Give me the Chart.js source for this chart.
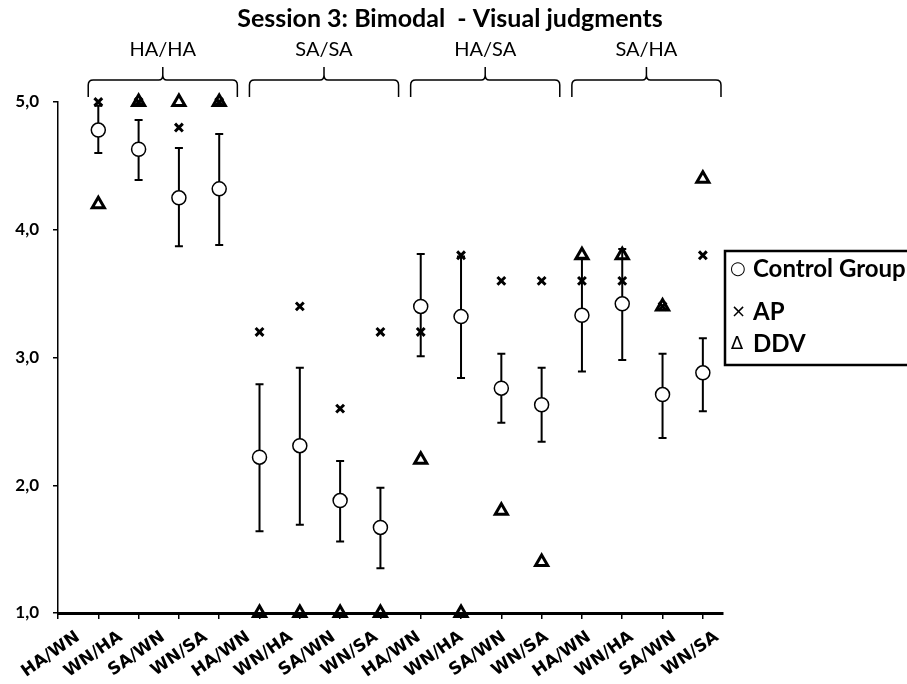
<!DOCTYPE html>
<html>
<head>
<meta charset="utf-8">
<script src="https://cdn.jsdelivr.net/npm/chart.js@4.4.0/dist/chart.umd.min.js"></script>
<style>html,body{margin:0;background:#fff}</style>
</head>
<body>
<canvas id="chart" width="907" height="684"></canvas>
<script>
// conditions along the x axis, four per group
var categories = ["HA/WN","WN/HA","SA/WN","WN/SA","HA/WN","WN/HA","SA/WN","WN/SA",
                  "HA/WN","WN/HA","SA/WN","WN/SA","HA/WN","WN/HA","SA/WN","WN/SA"];
var groups = ["HA/HA","SA/SA","HA/SA","SA/HA"];

// control group mean and error bar ends
var controlMean = [4.78,4.63,4.25,4.32, 2.22,2.31,1.88,1.67, 3.40,3.32,2.76,2.63, 3.33,3.42,2.71,2.88];
var controlLow  = [4.60,4.39,3.87,3.88, 1.64,1.69,1.56,1.35, 3.01,2.84,2.49,2.34, 2.89,2.98,2.37,2.58];
var controlHigh = [4.97,4.86,4.64,4.75, 2.79,2.92,2.19,1.98, 3.81,3.79,3.03,2.92, 3.78,3.85,3.03,3.15];

var apScores  = [5.0,5.0,4.8,5.0, 3.2,3.4,2.6,3.2, 3.2,3.8,3.6,3.6, 3.6,3.6,3.4,3.8];
var ddvScores = [4.2,5.0,5.0,5.0, 1.0,1.0,1.0,1.0, 2.2,1.0,1.8,1.4, 3.8,3.8,3.4,4.4];

function toPoints(arr) {
    return arr.map(function (v, i) { return { x: i + 1, y: v }; });
}
function categoryTicks(withZero) {
    var t = categories.map(function (c, i) { return { value: i + 1 }; });
    return withZero ? [{ value: 0 }].concat(t) : t;
}

var errorBars = {
    id: "errorBars",
    beforeDatasetsDraw: function (chart) {
        var c = chart.ctx, xs = chart.scales.x, ys = chart.scales.y;
        c.save();
        c.strokeStyle = "#000";
        c.lineWidth = 2;
        for (var i = 0; i < controlMean.length; i++) {
            var x = xs.getPixelForValue(i + 1);
            var y0 = ys.getPixelForValue(controlLow[i]);
            var y1 = ys.getPixelForValue(controlHigh[i]);
            c.beginPath();
            c.moveTo(x, y0); c.lineTo(x, y1);
            c.moveTo(x - 4, y0); c.lineTo(x + 4, y0);
            c.moveTo(x - 4, y1); c.lineTo(x + 4, y1);
            c.stroke();
        }
        c.restore();
    }
};

var decorations = {
    id: "decorations",
    afterDraw: function (chart) {
        var c = chart.ctx, xs = chart.scales.x;
        c.save();
        c.fillStyle = "#000";
        c.strokeStyle = "#000";
        c.textAlign = "center";
        c.textBaseline = "middle";
        c.font = "bold 25px Lato";
        c.fillText("Session 3: Bimodal  - Visual judgments", 450, 19);

        // group brackets
        c.lineWidth = 1.5;
        c.font = "20px Lato";
        groups.forEach(function (g, k) {
            var x0 = xs.getPixelForValue(k * 4 + 0.75);
            var x1 = xs.getPixelForValue(k * 4 + 4.45);
            var xm = (x0 + x1) / 2;
            c.beginPath();
            c.moveTo(x0, 97); c.lineTo(x0, 85);
            c.quadraticCurveTo(x0, 80, x0 + 5, 80);
            c.lineTo(xm - 4, 80);
            c.quadraticCurveTo(xm, 80, xm, 75);
            c.lineTo(xm, 67);
            c.moveTo(xm, 75);
            c.quadraticCurveTo(xm, 80, xm + 4, 80);
            c.lineTo(x1 - 5, 80);
            c.quadraticCurveTo(x1, 80, x1, 85);
            c.lineTo(x1, 97);
            c.stroke();
            c.fillText(g, xm, 50);
        });

        // legend
        c.lineWidth = 2.5;
        c.strokeRect(725, 251, 200, 114);
        c.textAlign = "left";
        c.font = "18px 'DejaVu Sans'";
        c.fillText("○", 730, 269);
        c.fillText("×", 731, 312);
        c.fillText("∆", 731, 344);
        c.font = "bold 24px Lato";
        c.fillText("Control Group", 753, 269);
        c.fillText("AP", 753, 312);
        c.fillText("DDV", 753, 344);
        c.restore();
    }
};

new Chart(document.getElementById("chart"), {
    type: "scatter",
    data: {
        datasets: [
            {
                label: "Control Group",
                data: toPoints(controlMean),
                pointStyle: "circle",
                pointRadius: 7,
                borderColor: "#000",
                backgroundColor: "#fff",
                borderWidth: 1.5,
                clip: false,
            },
            {
                label: "AP",
                data: toPoints(apScores),
                pointStyle: "crossRot",
                pointRadius: 5.5,
                borderColor: "#000",
                borderWidth: 3,
                clip: false,
            },
            {
                label: "DDV",
                data: toPoints(ddvScores),
                pointStyle: "triangle",
                pointRadius: 7,
                borderColor: "#000",
                backgroundColor: "rgba(0,0,0,0)",
                borderWidth: 3,
                clip: false,
            },
        ],
    },
    options: {
        responsive: false,
        animation: false,
        layout: { padding: { top: 102, right: 184, left: 0, bottom: 0 } },
        plugins: { legend: { display: false }, tooltip: { enabled: false } },
        scales: {
            x: {
                type: "linear",
                min: 0,
                max: 16.5,
                weight: 0,
                afterBuildTicks: function (s) { s.ticks = categoryTicks(true); },
                afterFit: function (s) { s.height = 6; },
                ticks: { padding: 0, callback: function () { return ""; } },
                grid: { drawOnChartArea: false, drawTicks: true, tickLength: 6, color: "#000", lineWidth: 1.5 },
                border: { color: "#000", width: 3 },
            },
            // label row; the source spreads its labels slightly wider than the tick marks
            xLabels: {
                type: "linear",
                position: "bottom",
                min: 0.53,
                max: 16.14,
                weight: 1,
                afterBuildTicks: function (s) { s.ticks = categoryTicks(false); },
                afterFit: function (s) { s.height = 65; },
                ticks: {
                    autoSkip: false,
                    minRotation: 35,
                    maxRotation: 35,
                    padding: 0,
                    color: "#000",
                    font: { family: "DejaVu Sans", size: 17, weight: "bold" },
                    callback: function (v) { return categories[v - 1] || ""; },
                },
                grid: { display: false },
                border: { display: false },
            },
            y: {
                min: 1,
                max: 5,
                afterFit: function (s) { s.width = 58; },
                ticks: {
                    stepSize: 1,
                    padding: 14,
                    color: "#000",
                    font: { family: "Lato", size: 17, weight: "bold" },
                    callback: function (v) { return v.toFixed(1).replace(".", ","); },
                },
                grid: { drawOnChartArea: false, drawTicks: true, tickLength: 5, color: "#000", lineWidth: 1.5 },
                border: { color: "#000", width: 1.5 },
            },
        },
    },
    plugins: [errorBars, decorations],
});
</script>
</body>
</html>
